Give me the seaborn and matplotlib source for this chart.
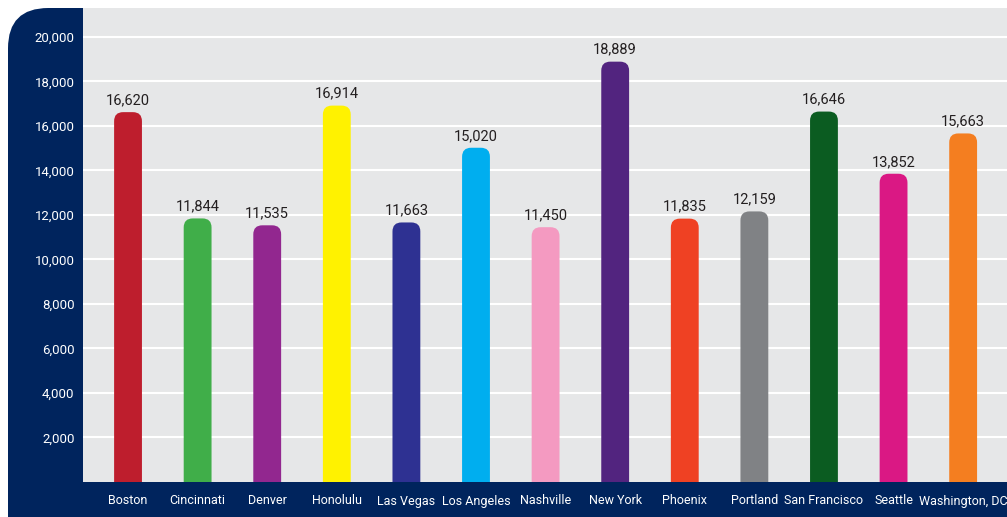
import matplotlib
matplotlib.use("Agg")
import matplotlib.pyplot as plt
from matplotlib import font_manager
from matplotlib.patches import FancyBboxPatch
import seaborn as sns
import pandas as pd

cities = ["Boston", "Cincinnati", "Denver", "Honolulu", "Las Vegas", "Los Angeles",
          "Nashville", "New York", "Phoenix", "Portland", "San Francisco", "Seattle",
          "Washington, DC"]
values = [16620, 11844, 11535, 16914, 11663, 15020, 11450, 18889, 11835, 12159,
          16646, 13852, 15663]
colors = ["#be1e2d", "#40ae49", "#92278f", "#fff200", "#2e3192", "#00aeef", "#f49ac1",
          "#52247f", "#ef4123", "#808285", "#0b5c21", "#da1884", "#f47e20"]
yticks = [2000, 4000, 6000, 8000, 10000, 12000, 14000, 16000, 18000, 20000]

NAVY = "#00245d"
GRAY = "#e6e7e8"

sns.set_theme(style="white")
names = {f.name for f in font_manager.fontManager.ttflist}
narrow = "Liberation Sans Narrow" in names
FONT = "Liberation Sans Narrow" if narrow else "Roboto"
plt.rcParams["font.family"] = [FONT, "DejaVu Sans"]

W, H = 1007, 517
fig = plt.figure(figsize=(W / 100, H / 100), dpi=100)
fig.patch.set_facecolor("white")

# navy frame with rounded top-left corner
frame = FancyBboxPatch((8 / W, -60 / H), 1.2, (517 - 8 + 60) / H,
                       boxstyle="round,pad=0,rounding_size=0.04",
                       mutation_aspect=W / H,
                       transform=fig.transFigure, facecolor=NAVY, edgecolor="none",
                       zorder=-10)
fig.patches.append(frame)

ax = fig.add_axes([83 / W, 35 / H, (W - 83) / W, (517 - 8 - 35) / H])
ax.set_facecolor(GRAY)

df = pd.DataFrame({"city": cities, "value": values})
sns.barplot(data=df, x="city", y="value", hue="city", palette=colors,
            saturation=1, width=0.4, legend=False, ax=ax, zorder=3)

ax.set_xlim(-0.647, 12.63)
ax.set_ylim(0, 21300)
ax.set_yticks(yticks)
ax.set_yticklabels([f"{v:,}" for v in yticks])
ax.yaxis.grid(True, color="white", linewidth=1.5, zorder=1)
ax.set_axisbelow(True)
for s in ax.spines.values():
    s.set_visible(False)
ax.set_xlabel("")
ax.set_ylabel("")
lab = 10.5 if narrow else 9.5
ax.tick_params(axis="y", length=0, pad=6, labelsize=lab, labelcolor="white")
ax.tick_params(axis="x", length=0, pad=9, labelsize=10.5 if narrow else 9,
               labelcolor="white")

# rounded bar tops
fig.canvas.draw()
x_per_px = (12.63 + 0.647) / ax.bbox.width
y_per_px = 21300 / ax.bbox.height
aspect = y_per_px / x_per_px
rad = 9 * x_per_px
for p in list(ax.patches):
    x, w, h = p.get_x(), p.get_width(), p.get_height()
    fc = p.get_facecolor()
    p.remove()
    ext = rad * aspect
    fb = FancyBboxPatch((x, -ext), w, h + ext,
                        boxstyle=f"round,pad=0,rounding_size={rad}",
                        mutation_aspect=aspect, facecolor=fc, edgecolor="none",
                        zorder=3)
    ax.add_patch(fb)
    ax.text(x + w / 2, h + 220, f"{h:,.0f}", ha="center", va="bottom",
            fontsize=11.5 if narrow else 10.5, color="#231f20")

fig.savefig("out.png", dpi=100, facecolor="white")
